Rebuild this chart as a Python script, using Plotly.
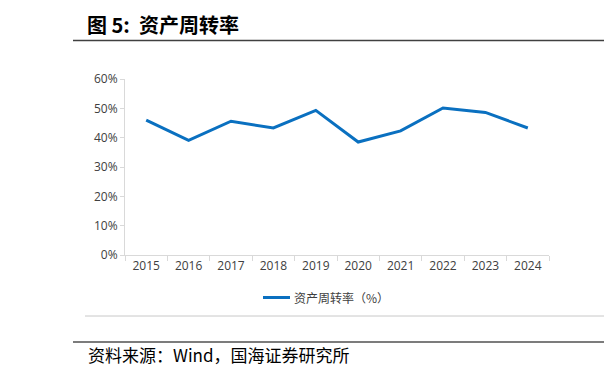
import plotly.graph_objects as go

years = ["2015", "2016", "2017", "2018", "2019", "2020", "2021", "2022", "2023", "2024"]
turnover = [46.0, 39.1, 45.6, 43.3, 49.3, 38.5, 42.3, 50.1, 48.6, 43.3]
series_name = "资产周转率（%）"
title_text = "图 5:  资产周转率"
source_text = "资料来源：Wind，国海证券研究所"

O = 8  # default page body margin
W, H = 612 - O, 379 - O
L, R, T, B = 125, 549, 79, 255  # plot area in page pixels
pw, ph = R - L, B - T

def px(x):
    return (x - L) / pw

def py(y):
    return (B - y) / ph

fig = go.Figure()
fig.add_trace(go.Scatter(x=years, y=turnover, mode="lines", name=series_name,
                         line=dict(color="#0A70C0", width=3)))

cjk = "Noto Sans CJK SC"
fig.update_layout(
    width=W, height=H, autosize=False,
    margin=dict(l=L - O, r=612 - R, t=T - O, b=379 - B),
    paper_bgcolor="white", plot_bgcolor="white",
    showlegend=False,
    xaxis=dict(type="category", showgrid=False, showline=True, linecolor="#d9d9d9", linewidth=1,
               ticks="outside", tickson="boundaries", ticklen=5, tickcolor="#d9d9d9",
               tickfont=dict(family="Open Sans, Noto Sans", size=12, color="#404040"),
               range=[-0.5, 9.5], fixedrange=True),
    yaxis=dict(range=[0, 60], dtick=10, ticksuffix="%", showgrid=False, showline=True,
               linecolor="#d9d9d9", linewidth=1, ticks="outside", ticklen=4, tickcolor="#d9d9d9",
               tickfont=dict(family="Open Sans, Noto Sans", size=12, color="#404040"),
               zeroline=False, fixedrange=True),
)

shapes = [
    dict(type="line", xref="paper", yref="paper", x0=px(73), x1=px(612), y0=py(40.5), y1=py(40.5),
         line=dict(color="#404040", width=1.5)),
    dict(type="line", xref="paper", yref="paper", x0=px(85), x1=px(612), y0=py(316), y1=py(316),
         line=dict(color="#c8c8c8", width=1)),
    dict(type="line", xref="paper", yref="paper", x0=px(73), x1=px(612), y0=py(342), y1=py(342),
         line=dict(color="#505050", width=1.5)),
    dict(type="line", xref="paper", yref="paper", x0=px(263), x1=px(290), y0=py(297.5), y1=py(297.5),
         line=dict(color="#0A70C0", width=3)),
]
fig.update_layout(shapes=shapes)

ann = [
    dict(text="<b>" + title_text + "</b>", x=px(85), y=py(25), xanchor="left", yanchor="middle",
         font=dict(family=cjk, size=20, color="#000000")),
    dict(text="<b>图</b>", x=px(609), y=py(25), xanchor="left", yanchor="middle",
         font=dict(family=cjk, size=20, color="#000000")),
    dict(text=series_name, x=px(292), y=py(297.5), xanchor="left", yanchor="middle",
         font=dict(family=cjk, size=12, color="#404040")),
    dict(text=source_text, x=px(86), y=py(354), xanchor="left", yanchor="middle",
         font=dict(family=cjk, size=17, color="#000000")),
    dict(text="请", x=px(609), y=py(354), xanchor="left", yanchor="middle",
         font=dict(family=cjk, size=17, color="#000000")),
]
for a in ann:
    a.update(xref="paper", yref="paper", showarrow=False)
fig.update_layout(annotations=ann)

fig.write_html("out.html")
